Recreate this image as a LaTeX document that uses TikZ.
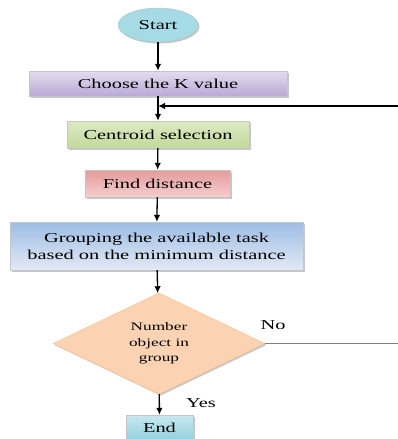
\documentclass[tikz,border=0pt]{standalone}
\usepackage{fontspec}
\setmainfont[FakeStretch=1.5]{Liberation Serif}
\usepackage{tikz}
\usetikzlibrary{shapes,arrows.meta,positioning,shadows}

\definecolor{startblue}{HTML}{A6DAE4}
\definecolor{lavtop}{HTML}{E4DCEF}
\definecolor{lavbot}{HTML}{B9A9D5}
\definecolor{greentop}{HTML}{DDEAC3}
\definecolor{greenbot}{HTML}{C2D99A}
\definecolor{pinktop}{HTML}{E39A9A}
\definecolor{pinkbot}{HTML}{F6CECE}
\definecolor{bluetop}{HTML}{9DBCE3}
\definecolor{bluebot}{HTML}{E2EAF6}
\definecolor{peach}{HTML}{FBD3B2}
\definecolor{endtop}{HTML}{C6E8F0}
\definecolor{endbot}{HTML}{92D1DE}

\tikzset{
  flowbox/.style={rectangle, draw=gray!45, inner sep=0pt, align=center,
    font=\rmfamily\fontsize{13.6}{17}\selectfont,
    drop shadow={shadow xshift=1.5pt, shadow yshift=-1.5pt, opacity=0.45}},
  arrow/.style={line width=1.3pt, -{Latex[length=7pt,width=6.5pt]}},
  tag/.style={font=\rmfamily\fontsize{13.6}{17}\selectfont, inner sep=0pt}
}

\begin{document}
\begin{tikzpicture}[x=1pt,y=-1pt]
    \useasboundingbox (0,0) rectangle (398,439);

    % Boxes
    \node[flowbox, ellipse, draw=startblue!80!black!70, fill=startblue,
          minimum width=80pt, minimum height=34pt] (start) at (158,25) {Start};
    \node[flowbox, top color=lavtop, bottom color=lavbot,
          minimum width=258pt, minimum height=25pt] (choose) at (158,83.5) {Choose the K value};
    \node[flowbox, top color=greentop, bottom color=greenbot,
          minimum width=182pt, minimum height=27pt] (centroid) at (158,134.5) {Centroid selection};
    \node[flowbox, top color=pinktop, bottom color=pinkbot,
          minimum width=145pt, minimum height=27pt] (dist) at (157.5,183.5) {Find distance};
    \node[flowbox, top color=bluetop, bottom color=bluebot,
          minimum width=293pt, minimum height=48pt] (group) at (156.5,246)
          {Grouping the available task\\based on the minimum distance};
    \node[flowbox, diamond, draw=peach!80!orange, fill=peach,
          minimum width=212pt, minimum height=97pt,
          font=\rmfamily\fontsize{11.5}{15.5}\selectfont] (decide) at (159,343.5)
          {Number\\object in\\group};
    \node[flowbox, top color=endtop, bottom color=endbot,
          minimum width=67pt, minimum height=26pt] (end) at (159.5,428) {End};

    % Labels
    \node[tag] (no) at (273,325) {No};
    \node[tag] (yes) at (201,403) {Yes};

    % Connectors
    \draw[arrow] (start) -- (choose);
    \draw[arrow] (choose) -- (centroid);
    \draw[arrow] (centroid) -- (dist);
    \draw[arrow] (dist) -- (group);
    \draw[arrow] (group) -- (decide);
    \draw[arrow] (decide) -- (end);

    % Loop back (open ends at the right)
    \coordinate (loopin) at (398,106);
    \coordinate (loopout) at (398,343.5);
    \draw[arrow] (loopin) -- (loopin -| choose.south);
    \draw[gray, line width=0.9pt] (decide.east) -- (loopout);
\end{tikzpicture}
\end{document}
